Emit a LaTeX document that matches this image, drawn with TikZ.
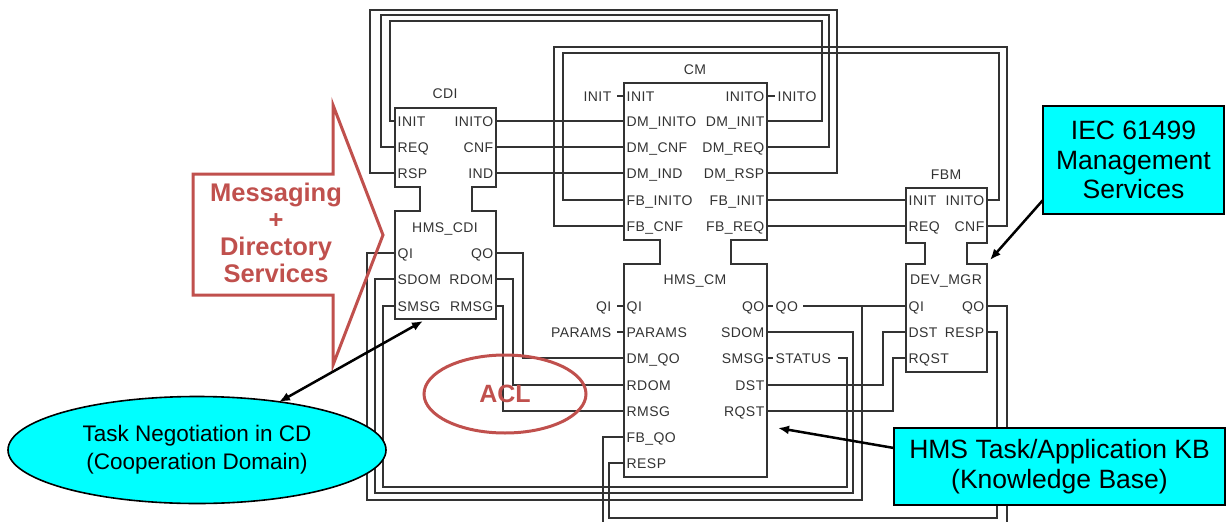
\documentclass[tikz,border=0pt]{standalone}
\usepackage{fontspec}
\setmainfont{Liberation Sans}
\newfontfamily\portfont[LetterSpace=3]{Liberation Sans}
\usetikzlibrary{shapes.geometric,arrows.meta}
\definecolor{wirec}{HTML}{333333}
\definecolor{redc}{HTML}{C0504D}
\definecolor{cyanc}{HTML}{00FFFF}
\newcommand\PL[3]{\node[lbl,anchor=base west] at ({#1+2.5},{#2+5}) {#3};}
\newcommand\PR[3]{\node[lbl,anchor=base east] at ({#1-2.5},{#2+5}) {#3};}
\newcommand\PC[3]{\node[lbl,anchor=base] at ({#1},{#2+5}) {#3};}
\begin{document}
\begin{tikzpicture}[x=1pt,y=-1pt,
  wire/.style={draw=wirec,line width=1.3pt},
  fbbox/.style={draw=wirec,line width=1.3pt,fill=white},
  lbl/.style={font=\portfont\fontsize{14}{16}\selectfont,inner sep=0pt,text=wirec},
  callbox/.style={draw=black,line width=1.6pt,fill=cyanc,inner sep=0pt,align=center,font=\fontsize{26.5}{29.5}\selectfont},
  redline/.style={draw=redc,line width=3pt},
  pointer/.style={draw=black,line width=2.5pt,-{Latex[length=11pt,width=9pt]}},
  dpointer/.style={draw=black,line width=2.5pt,{Latex[length=11pt,width=9pt]}-{Latex[length=11pt,width=9pt]}}]
\useasboundingbox (0,0) rectangle (1226,522);

% ---------- function blocks ----------
\draw[fbbox] (395,108) -- (496,108) -- (496,187) -- (472,187) -- (472,211) -- (496,211)
  -- (496,319) -- (395,319) -- (395,211) -- (420,211) -- (420,187) -- (395,187) -- cycle;
\draw[fbbox] (624,83) -- (767,83) -- (767,240) -- (731,240) -- (731,264) -- (767,264)
  -- (767,477) -- (624,477) -- (624,264) -- (660,264) -- (660,240) -- (624,240) -- cycle;
\draw[fbbox] (906,188) -- (987,188) -- (987,243) -- (967,243) -- (967,264) -- (987,264)
  -- (987,372) -- (906,372) -- (906,264) -- (925,264) -- (925,243) -- (906,243) -- cycle;

% ---------- port coordinates ----------
\coordinate (cdi-init) at (395,121);  \coordinate (cdi-inito) at (496,121);
\coordinate (cdi-req) at (395,147);   \coordinate (cdi-cnf) at (496,147);
\coordinate (cdi-rsp) at (395,173);   \coordinate (cdi-ind) at (496,173);
\coordinate (hcdi-qi) at (395,253);   \coordinate (hcdi-qo) at (496,253);
\coordinate (hcdi-sdom) at (395,279); \coordinate (hcdi-rdom) at (496,279);
\coordinate (hcdi-smsg) at (395,306); \coordinate (hcdi-rmsg) at (496,306);
\coordinate (cm-init) at (624,96);    \coordinate (cm-inito) at (767,96);
\coordinate (cm-dminito) at (624,121);\coordinate (cm-dminit) at (767,121);
\coordinate (cm-dmcnf) at (624,147);  \coordinate (cm-dmreq) at (767,147);
\coordinate (cm-dmind) at (624,173);  \coordinate (cm-dmrsp) at (767,173);
\coordinate (cm-fbinito) at (624,200);\coordinate (cm-fbinit) at (767,200);
\coordinate (cm-fbcnf) at (624,226);  \coordinate (cm-fbreq) at (767,226);
\coordinate (hcm-qi) at (624,306);    \coordinate (hcm-qo) at (767,306);
\coordinate (hcm-params) at (624,332);\coordinate (hcm-sdom) at (767,332);
\coordinate (hcm-dmqo) at (624,358);  \coordinate (hcm-smsg) at (767,358);
\coordinate (hcm-rdom) at (624,385);  \coordinate (hcm-dst) at (767,385);
\coordinate (hcm-rmsg) at (624,411);  \coordinate (hcm-rqst) at (767,411);
\coordinate (hcm-fbqo) at (624,437);
\coordinate (hcm-resp) at (624,463);
\coordinate (fbm-init) at (906,200);  \coordinate (fbm-inito) at (987,200);
\coordinate (fbm-req) at (906,226);   \coordinate (fbm-cnf) at (987,226);
\coordinate (fbm-qi) at (906,306);    \coordinate (fbm-qo) at (987,306);
\coordinate (fbm-dst) at (906,332);   \coordinate (fbm-resp) at (987,332);
\coordinate (fbm-rqst) at (906,358);
\coordinate (qo-out) at (803,306);
\coordinate (status-out) at (838,358);
\coordinate (qo-junc) at (862,306);
\coordinate (bot-fbqo) at (603,522);
\coordinate (bot-fbmqo) at (1007,522);

% ---------- connections ----------
\draw[wire] (cdi-rsp) -| (370,10) -| (837,173) -- (cm-dmrsp);
\draw[wire] (cdi-req) -| (381,15) -| (829,147) -- (cm-dmreq);
\draw[wire] (cdi-init) -| (390,21) -| (822,121) -- (cm-dminit);
\draw[wire] (cdi-inito) -- (cm-dminito);
\draw[wire] (cdi-cnf) -- (cm-dmcnf);
\draw[wire] (cdi-ind) -- (cm-dmind);
\draw[wire] (cm-fbcnf) -| (554,47) -| (1007,226) -- (fbm-cnf);
\draw[wire] (cm-fbinito) -| (563,53) -| (999,200) -- (fbm-inito);
\draw[wire] (cm-fbinit) -- (fbm-init);
\draw[wire] (cm-fbreq) -- (fbm-req);
\draw[wire] (hcdi-qo) -| (523,358) -- (hcm-dmqo);
\draw[wire] (hcdi-rdom) -| (513,385) -- (hcm-rdom);
\draw[wire] (hcdi-rmsg) -| (503,411) -- (hcm-rmsg);
\draw[wire] (qo-out) -- (fbm-qi);
\draw[wire] (qo-junc) |- (367,500) |- (hcdi-qi);
\draw[wire] (hcm-sdom) -| (853,493) -| (375,279) -- (hcdi-sdom);
\draw[wire] (status-out) -| (847,487) -| (383,306) -- (hcdi-smsg);
\draw[wire] (hcm-dst) -| (883,332) -- (fbm-dst);
\draw[wire] (hcm-rqst) -| (893,358) -- (fbm-rqst);
\draw[wire] (hcm-resp) -| (609,518) -| (997,332) -- (fbm-resp);
\draw[wire] (hcm-fbqo) -| (bot-fbqo);
\draw[wire] (fbm-qo) -| (bot-fbmqo);
% stubs
\draw[wire] (617,96) -- (cm-init);
\draw[wire] (cm-inito) -- (775,96);
\draw[wire] (617,306) -- (hcm-qi);
\draw[wire] (617,332) -- (hcm-params);
\draw[wire] (hcm-qo) -- (773,306);
\draw[wire] (hcm-smsg) -- (773,358);

% ---------- labels ----------
\PC{445}{93}{CDI}
\PL{395}{121}{INIT} \PR{496}{121}{INITO}
\PL{395}{147}{REQ}  \PR{496}{147}{CNF}
\PL{395}{173}{RSP}  \PR{496}{173}{IND}
\PC{445}{227}{HMS\_CDI}
\PL{395}{253}{QI}   \PR{496}{253}{QO}
\PL{395}{279}{SDOM} \PR{496}{279}{RDOM}
\PL{395}{306}{SMSG} \PR{496}{306}{RMSG}

\PC{695}{69}{CM}
\PL{624}{96}{INIT}      \PR{767}{96}{INITO}
\PL{624}{121}{DM\_INITO} \PR{767}{121}{DM\_INIT}
\PL{624}{147}{DM\_CNF}   \PR{767}{147}{DM\_REQ}
\PL{624}{173}{DM\_IND}   \PR{767}{173}{DM\_RSP}
\PL{624}{200}{FB\_INITO} \PR{767}{200}{FB\_INIT}
\PL{624}{226}{FB\_CNF}   \PR{767}{226}{FB\_REQ}
\PC{695}{279}{HMS\_CM}
\PL{624}{306}{QI}      \PR{767}{306}{QO}
\PL{624}{332}{PARAMS}  \PR{767}{332}{SDOM}
\PL{624}{358}{DM\_QO}  \PR{767}{358}{SMSG}
\PL{624}{385}{RDOM}    \PR{767}{385}{DST}
\PL{624}{411}{RMSG}    \PR{767}{411}{RQST}
\PL{624}{437}{FB\_QO}
\PL{624}{463}{RESP}

\PR{614}{96}{INIT}
\PL{775}{96}{INITO}
\PR{614}{306}{QI}
\PR{614}{332}{PARAMS}
\PL{773}{306}{QO}
\PL{773}{358}{STATUS}

\PC{946}{174}{FBM}
\PL{906}{200}{INIT} \PR{987}{200}{INITO}
\PL{906}{226}{REQ}  \PR{987}{226}{CNF}
\PC{946}{279}{DEV\_MGR}
\PL{906}{306}{QI}   \PR{987}{306}{QO}
\PL{906}{332}{DST}  \PR{987}{332}{RESP}
\PL{906}{358}{RQST}

% ---------- callouts ----------
\draw[redline] (193,174) -- (333,174) -- (333,105) -- (383,235) -- (333,365) -- (333,295) -- (193,295) -- cycle;
\node[text=redc,align=center,font=\bfseries\fontsize{25.5}{27}\selectfont,inner sep=0pt] (msg) at (276,233) {Messaging\\+\\Directory\\Services};

\node[ellipse,redline,minimum width=162pt,minimum height=78pt,inner sep=0pt] (acl) at (505,394) {};
\node[text=redc,font=\bfseries\fontsize{25}{28}\selectfont,inner sep=0pt] at (505,394) {ACL};

\node[ellipse,draw=black,line width=1.6pt,fill=cyanc,minimum width=378pt,minimum height=107pt,inner sep=0pt,align=center,font=\fontsize{22.5}{28}\selectfont] (tn) at (197,450) {Task Negotiation in CD\\(Cooperation Domain)};
\coordinate (tn-top) at (279,402);
\coordinate (hcdi-bot) at (423,321);
\draw[dpointer] (tn-top) -- (hcdi-bot);

\node[callbox,minimum width=181pt,minimum height=108pt] (iec) at (1133.5,160) {IEC 61499\\Management\\Services};
\coordinate (iec-tail) at (1043,200);
\coordinate (fbm-neck) at (990,260);
\draw[pointer] (iec-tail) -- (fbm-neck);

\node[callbox,minimum width=331pt,minimum height=77pt] (kb) at (1059.5,466.5) {HMS Task/Application KB\\(Knowledge Base)};
\coordinate (kb-tail) at (894,448);
\coordinate (hcm-mid) at (778,428);
\draw[pointer] (kb-tail) -- (hcm-mid);
\end{tikzpicture}
\end{document}
